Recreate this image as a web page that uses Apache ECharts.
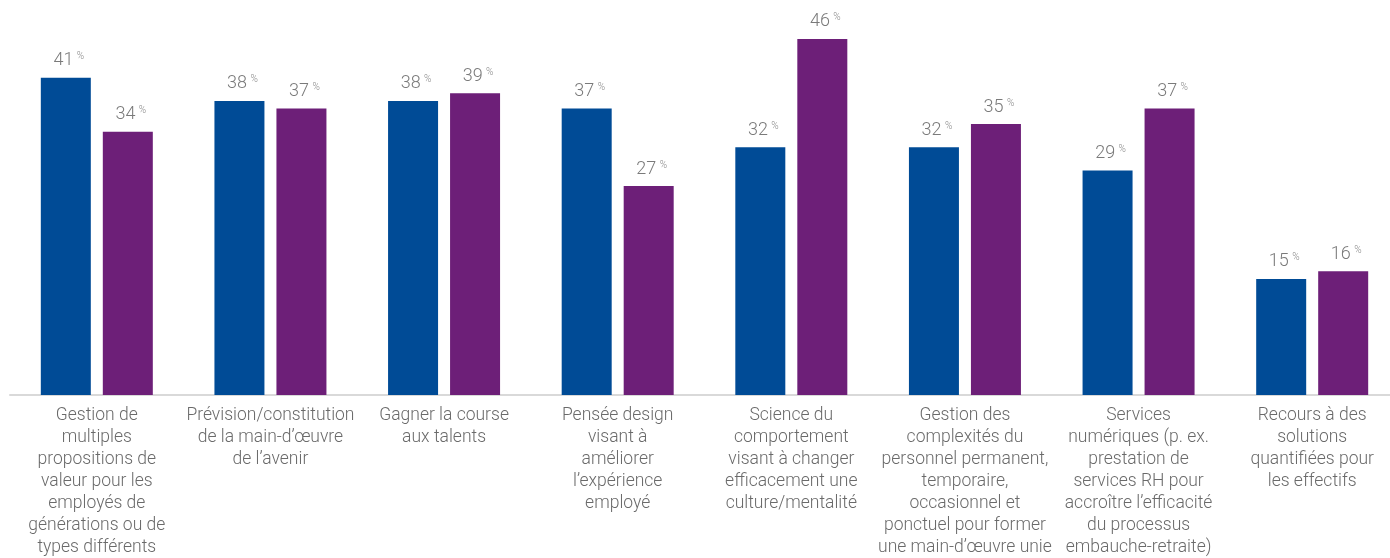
<!DOCTYPE html>
<html>
<head>
<meta charset="utf-8">
<script src="https://cdn.jsdelivr.net/npm/echarts@6/dist/echarts.min.js"></script>
<style>html,body{margin:0;padding:0;background:#fff;overflow:hidden}#c{width:1400px;height:558px}</style>
</head>
<body>
<div id="c"></div>
<script>
const categories = [
  "Gestion de\nmultiples\npropositions de\nvaleur pour les\nemployés de\ngénérations ou de\ntypes différents",
  "Prévision/constitution\nde la main-d’œuvre\nde l’avenir",
  "Gagner la course\naux talents",
  "Pensée design\nvisant à\naméliorer\nl’expérience\nemployé",
  "Science du\ncomportement\nvisant à changer\nefficacement une\nculture/mentalité",
  "Gestion des\ncomplexités du\npersonnel permanent,\ntemporaire,\noccasionnel et\nponctuel pour former\nune main-d’œuvre unie",
  "Services\nnumériques (p. ex.\nprestation de\nservices RH pour\naccroître l’efficacité\ndu processus\nembauche-retraite)",
  "Recours à des\nsolutions\nquantifiées pour\nles effectifs"
];
const seriesA = [41, 38, 38, 37, 32, 32, 29, 15];
const seriesB = [34, 37, 39, 27, 46, 35, 37, 16];

const chart = echarts.init(document.getElementById('c'));
const FONT = 'Roboto, Arial, sans-serif';
const label = {
  show: true,
  position: 'top',
  distance: 8,
  offset: [3, 0],
  formatter: p => '{n|' + p.value + '} {p|%}',
  rich: {
    n: { fontSize: 18, color: '#7a7a7a', fontFamily: FONT, fontWeight: 300 },
    p: { fontSize: 10, color: '#8c8c8c', fontFamily: FONT, fontWeight: 300, verticalAlign: 'top', padding: [0, 0, 8, 0] }
  }
};
chart.setOption({
  animation: false,
  grid: { left: 10, right: 1, top: 8, bottom: 163, outerBoundsMode: 'none', containLabel: false },
  xAxis: {
    type: 'category',
    data: categories,
    axisLine: { lineStyle: { color: '#d9d9d9', width: 2 } },
    axisTick: { show: false },
    axisLabel: {
      interval: 0,
      color: '#6a6a6a',
      fontSize: 17.5,
      fontWeight: 300,
      lineHeight: 22,
      margin: 10,
      fontFamily: FONT,
      verticalAlign: 'top'
    }
  },
  yAxis: {
    type: 'value', min: 0, max: 50,
    show: false,
    splitLine: { show: false }
  },
  series: [
    { type: 'bar', data: seriesA, barWidth: 50, barGap: '24%', itemStyle: { color: '#004b96' }, label: label },
    { type: 'bar', data: seriesB, barWidth: 50, itemStyle: { color: '#6d1f78' }, label: label }
  ]
});
</script>
</body>
</html>
